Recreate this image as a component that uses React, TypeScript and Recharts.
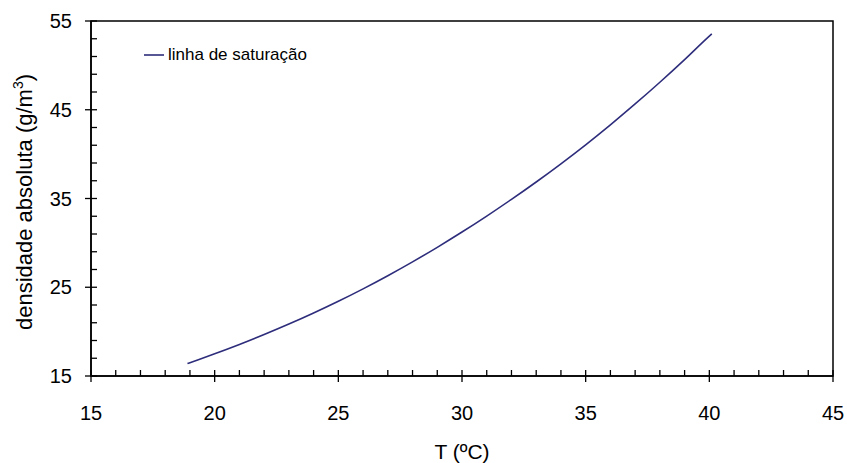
import { LineChart, Line, XAxis, YAxis, ReferenceArea, Label } from 'recharts';

const FONT = '"Liberation Sans", Arial, sans-serif';
const LINE_COLOR = '#2e2d7c';

// temperatura (ºC) e densidade absoluta de saturação (g/m3)
const temperaturas = [
  18.9, 19, 20, 21, 22, 23, 24, 25, 26, 27, 28, 29, 30, 31, 32, 33, 34, 35, 36, 37, 38, 39, 40, 40.1,
];
const densidades = [
  16.4, 16.5, 17.5, 18.55, 19.67, 20.85, 22.1, 23.42, 24.82, 26.3, 27.86, 29.5, 31.22, 33.02, 34.9,
  36.86, 38.91, 41.05, 43.3, 45.65, 48.1, 50.65, 53.3, 53.55,
];

const xTicks = [
  15, 16, 17, 18, 19, 20, 21, 22, 23, 24, 25, 26, 27, 28, 29, 30, 31, 32, 33, 34, 35, 36, 37, 38,
  39, 40, 41, 42, 43, 44, 45,
];
const xMajor = [15, 20, 25, 30, 35, 40, 45];
const yTicks = [15, 17, 19, 21, 23, 25, 27, 29, 31, 33, 35, 37, 39, 41, 43, 45, 47, 49, 51, 53, 55];
const yMajor = [15, 25, 35, 45, 55];

const data = temperaturas.map((t, i) => ({ t, rho: densidades[i] }));

function XTick(props: any) {
  const { x, y, payload } = props;
  const v = payload.value;
  const major = xMajor.includes(v);
  return (
    <g>
      <line x1={x} x2={x} y1={y - 6} y2={major ? y + 6 : y} stroke="#000" strokeWidth={1.3} />
      {major && (
        <text x={x} y={y + 44} textAnchor="middle" fontSize={20} fontFamily={FONT} fill="#000">
          {v}
        </text>
      )}
    </g>
  );
}

function YTick(props: any) {
  const { x, y, payload } = props;
  const v = payload.value;
  const major = yMajor.includes(v);
  return (
    <g>
      <line x1={major ? x - 6 : x} x2={x + 6} y1={y} y2={y} stroke="#000" strokeWidth={1.3} />
      {major && (
        <text x={x - 19} y={y + 7} textAnchor="end" fontSize={20} fontFamily={FONT} fill="#000">
          {v}
        </text>
      )}
    </g>
  );
}

export default function App() {
  return (
    <div style={{ position: 'absolute', left: 0, top: 0, width: 847, height: 463, background: '#fff' }}>
      <LineChart width={847} height={463} data={data} margin={{ top: 21, right: 14, left: 0, bottom: 0 }}>
        <ReferenceArea x1={15} x2={45} y1={15} y2={55} fill="none" stroke="#000" strokeWidth={1.5} />
        <XAxis
          dataKey="t"
          type="number"
          domain={[15, 45]}
          ticks={xTicks}
          interval={0}
          tickSize={0}
          tickMargin={0}
          tickLine={false}
          tick={<XTick />}
          height={87}
          axisLine={{ stroke: '#000', strokeWidth: 1.5 }}
        >
          <Label
            content={() => (
              <text x={462} y={459} textAnchor="middle" fontSize={21} fontFamily={FONT} fill="#000">
                T (ºC)
              </text>
            )}
          />
        </XAxis>
        <YAxis
          type="number"
          domain={[15, 55]}
          ticks={yTicks}
          interval={0}
          tickSize={0}
          tickMargin={0}
          tickLine={false}
          tick={<YTick />}
          width={91}
          axisLine={{ stroke: '#000', strokeWidth: 1.5 }}
        >
          <Label
            content={() => (
              <text
                x={0}
                y={0}
                transform="translate(32 202) rotate(-90)"
                textAnchor="middle"
                fontSize={22}
                fontFamily={FONT}
                fill="#000"
              >
                densidade absoluta (g/m
                <tspan dy={-9} fontSize={14}>
                  3
                </tspan>
                <tspan dy={9}>)</tspan>
              </text>
            )}
          />
        </YAxis>
        <Line
          type="monotone"
          dataKey="rho"
          stroke={LINE_COLOR}
          strokeWidth={1.6}
          dot={false}
          isAnimationActive={false}
        />
      </LineChart>
      <div
        style={{
          position: 'absolute',
          left: 144,
          top: 45,
          display: 'flex',
          alignItems: 'center',
          fontFamily: FONT,
          fontSize: 17,
          color: '#000',
        }}
      >
        <svg width={20} height={20} style={{ marginRight: 4 }}>
          <line x1={0} x2={20} y1={10} y2={10} stroke={LINE_COLOR} strokeWidth={1.6} />
        </svg>
        <span>linha de saturação</span>
      </div>
    </div>
  );
}
